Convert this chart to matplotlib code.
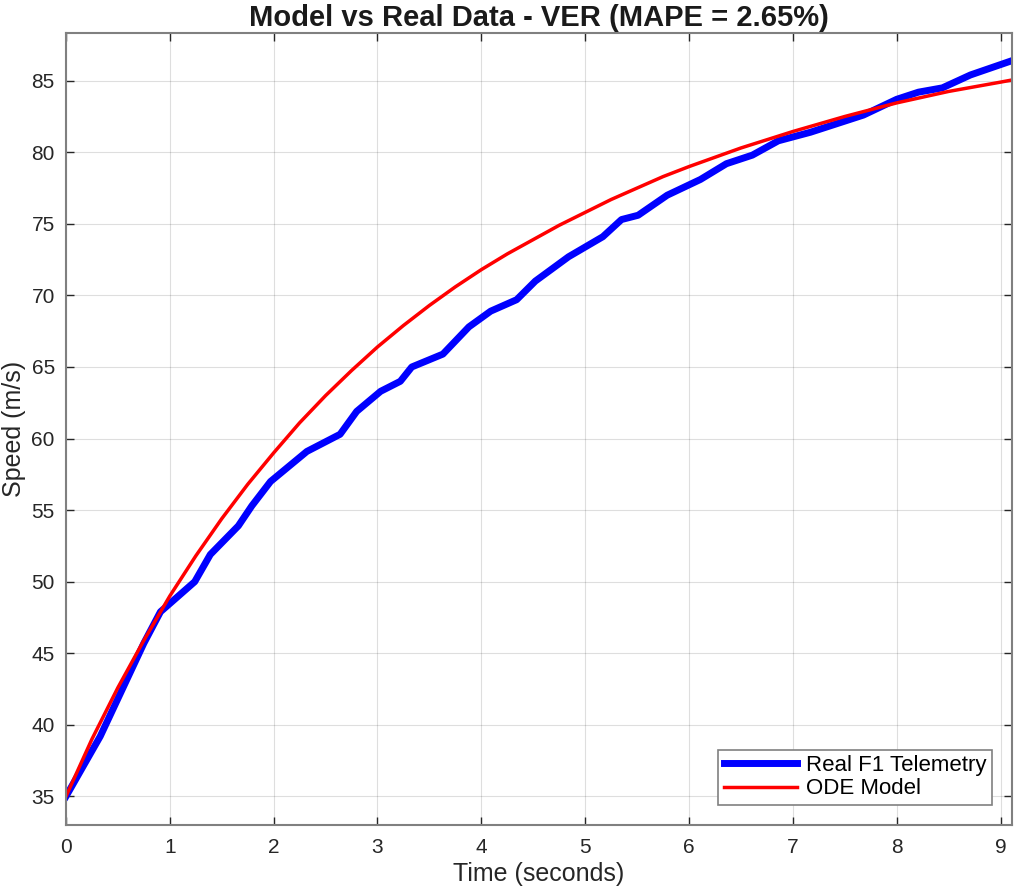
import matplotlib
matplotlib.use('Agg')
import matplotlib.pyplot as plt

# Telemetry samples (time in s, speed in m/s)
real_t = [0.00, 0.33, 0.75, 0.91, 1.24, 1.39, 1.66, 1.79, 1.97, 2.32, 2.64, 2.80,
          3.03, 3.22, 3.33, 3.63, 3.88, 4.09, 4.34, 4.52, 4.84, 5.17, 5.35, 5.51,
          5.79, 6.11, 6.36, 6.61, 6.86, 7.17, 7.68, 8.00, 8.21, 8.44, 8.71, 9.11]
real_v = [35.0, 39.2, 45.7, 47.9, 50.0, 51.9, 53.9, 55.3, 57.0, 59.1, 60.3, 61.9,
          63.3, 64.0, 65.0, 65.9, 67.8, 68.9, 69.7, 71.0, 72.7, 74.1, 75.3, 75.6,
          77.0, 78.1, 79.2, 79.8, 80.8, 81.4, 82.6, 83.7, 84.2, 84.5, 85.4, 86.4]

# ODE model output
model_t = [0.0, 0.25, 0.5, 0.75, 1.0, 1.25, 1.5, 1.75, 2.0, 2.25, 2.5, 2.75, 3.0,
           3.25, 3.5, 3.75, 4.0, 4.25, 4.5, 4.75, 5.0, 5.25, 5.5, 5.75, 6.0,
           6.5, 7.0, 7.5, 8.0, 8.5, 9.0, 9.11]
model_v = [35.0, 39.0, 42.6, 45.9, 49.0, 51.8, 54.4, 56.8, 59.0, 61.1, 63.0, 64.75, 66.4,
           67.9, 69.3, 70.6, 71.8, 72.9, 73.9, 74.9, 75.8, 76.7, 77.5, 78.3, 79.0,
           80.3, 81.45, 82.5, 83.45, 84.25, 84.9, 85.05]

x_ticks = list(range(0, 10))
y_ticks = list(range(35, 90, 5))

plt.rcParams['font.family'] = ['Liberation Sans', 'DejaVu Sans']

fig = plt.figure(figsize=(10.15, 8.88), dpi=100)
ax = fig.add_axes([0.065, 0.0709, 0.932, 0.8919])

ax.plot(real_t, real_v, color='#0000ff', linewidth=5, label='Real F1 Telemetry',
        solid_joinstyle='round')
ax.plot(model_t, model_v, color='#ff0000', linewidth=2.5, label='ODE Model',
        solid_joinstyle='round')

ax.set_xlim(0, 9.11)
ax.set_ylim(33, 88.33)
ax.set_xticks(x_ticks)
ax.set_yticks(y_ticks)
ax.tick_params(direction='in', length=6, width=1, top=True, right=True,
               labelsize=15, colors='#262626')
ax.tick_params(axis='x', pad=9)
ax.tick_params(axis='y', pad=8)
for s in ax.spines.values():
    s.set_color('#808080')
    s.set_linewidth(1.5)
ax.grid(True, color='#000000', alpha=0.13, linewidth=0.8)

ax.set_xlabel('Time (seconds)', fontsize=18, color='#262626', labelpad=4)
ax.set_ylabel('Speed (m/s)', fontsize=18, color='#262626', labelpad=4)
ax.set_title('Model vs Real Data - VER (MAPE = 2.65%)', fontsize=21,
             fontweight='bold', color='#1a1a1a', pad=5)

leg = ax.legend(loc='lower right', fontsize=16, fancybox=False, framealpha=1,
                edgecolor='#808080', handlelength=3.3, borderaxespad=0.9,
                borderpad=0.25, labelspacing=0.1, handletextpad=0.4)
leg.get_frame().set_linewidth(1.2)

fig.savefig('out.png', dpi=100)
